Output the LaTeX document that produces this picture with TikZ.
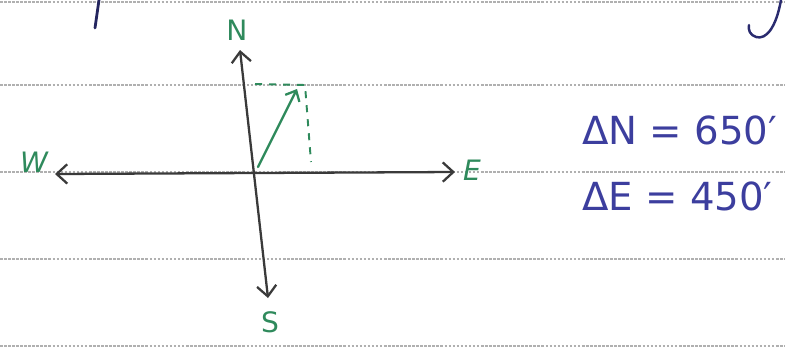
\documentclass[tikz,border=0pt]{standalone}
\usepackage{fontspec}
\newfontfamily\hand{DejaVu Sans}
\usetikzlibrary{arrows.meta}
\definecolor{pencil}{HTML}{3A3A3A}
\definecolor{greenink}{HTML}{2F8A5C}
\definecolor{blueink}{HTML}{3C3E9E}
\definecolor{ruling}{HTML}{B0B0B0}
\tikzset{x=0.02cm, y=-0.02cm,
ruleline/.style ={draw=ruling, dash pattern=on 1.5pt off 0.8pt, line width=0.6pt},
axis/.style ={draw=pencil, line width=1.3pt, line cap=round,
  {Straight Barb[length=6pt,width=11pt,line width=1.3pt]}-{Straight Barb[length=6pt,width=11pt,line width=1.3pt]}},
dirlabel/.style ={text=greenink, font=\hand\fontsize{16}{18}\selectfont, inner sep=1pt},
vector/.style ={draw=greenink, line width=1.3pt, line cap=round,
  -{Straight Barb[length=5pt,width=9pt,line width=1.3pt]}},
helper/.style ={draw=greenink, line width=1.1pt, dashed, dash pattern=on 4pt off 4pt},
result/.style ={text=blueink, font=\hand\fontsize{22}{26}\selectfont, anchor=west, inner sep=0pt}}

\begin{document}
\begin{tikzpicture}
\useasboundingbox (0,0) rectangle (785,349);
% paper rulings
\foreach \y in {2,85,172,259,346}
  \draw[ruleline] (0,\y) -- (785,\y);
% cut-off writing at the top
\draw[draw=blueink!60!black, line width=1.6pt, line cap=round] (99,0) -- (95,28);
\draw[draw=blueink!70!black, line width=1.4pt, line cap=round] (781,0) .. controls (776,28) and (766,40) .. (756,37) .. controls (750,35) and (748,30) .. (749,25);

\node[dirlabel] (N) at (237,30) {N};
\node[dirlabel] (S) at (270,322) {S};
\node[dirlabel] (W) at (34,162) {\itshape W};
\node[dirlabel] (E) at (472,170) {\itshape E};
\coordinate (ntip) at (240,50);
\coordinate (stip) at (268,298);
\coordinate (wtip) at (55,174);
\coordinate (etip) at (455,172);
\coordinate (origin) at (258,167);
\coordinate (head) at (297,89);
\coordinate (corner) at (305,85);
\coordinate (foot) at (311,162);
\coordinate (top) at (255,84);

\draw[axis] (stip) -- (ntip);
\draw[axis] (wtip) -- (etip);
\draw[vector] (origin) -- (head);
\draw[helper] (top) -- (corner) -- (foot);

\node[result] (dN) at (582,130) {ΔN = 650′};
\node[result] (dE) at (582,196) {ΔE = 450′};
\end{tikzpicture}
\end{document}
